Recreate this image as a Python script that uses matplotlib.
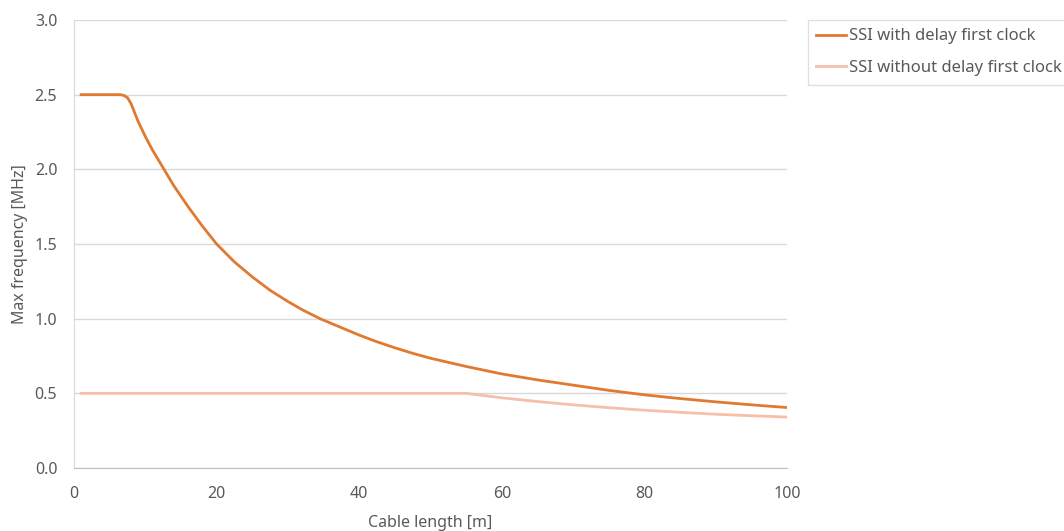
import matplotlib
matplotlib.use('Agg')
import matplotlib.pyplot as plt
from matplotlib.ticker import FormatStrFormatter

plt.rcParams['font.family'] = ['Noto Sans', 'DejaVu Sans']

# values
len_delay = [1, 6, 6.5, 7, 7.5, 8, 8.5, 9, 9.5, 10, 11, 12.5, 14, 16, 18, 20, 22.5,
             25, 27.5, 30, 32, 34.5, 37, 40, 42.5, 45, 47.5, 50, 55, 60, 65, 70,
             75, 80, 85, 90, 95, 100]
freq_delay = [2.5, 2.5, 2.5, 2.495, 2.48, 2.44, 2.38, 2.32, 2.27, 2.22, 2.13, 2.01,
              1.89, 1.75, 1.62, 1.50, 1.38, 1.28, 1.19, 1.115, 1.06, 1.00, 0.95,
              0.89, 0.845, 0.805, 0.768, 0.735, 0.68, 0.63, 0.59, 0.555, 0.52,
              0.49, 0.465, 0.443, 0.423, 0.405]
len_nodelay = [1, 55, 60, 65, 70, 75, 80, 85, 90, 95, 100]
freq_nodelay = [0.5, 0.5, 0.47, 0.445, 0.423, 0.404, 0.387, 0.373, 0.36, 0.35, 0.341]

labels = ['SSI with delay first clock', 'SSI without delay first clock']
colors = ['#E07A30', '#F7BFA8']
text_col = '#595959'

fig = plt.figure(figsize=(10.64, 5.31), dpi=100)
ax = fig.add_axes([74/1064, 1 - 468/531, (787 - 74)/1064, (468 - 20)/531])

ax.plot(len_delay, freq_delay, color=colors[0], lw=2, label=labels[0])
ax.plot(len_nodelay, freq_nodelay, color=colors[1], lw=2, label=labels[1])

ax.set_xlim(0, 100)
ax.set_ylim(0, 3.0)
ax.set_xticks(range(0, 101, 20))
ax.set_yticks([0, 0.5, 1.0, 1.5, 2.0, 2.5, 3.0])
ax.yaxis.set_major_formatter(FormatStrFormatter('%.1f'))
ax.grid(axis='y', color='#D9D9D9', lw=1)
ax.set_axisbelow(True)
ax.tick_params(length=0, labelsize=11.5, labelcolor=text_col)
ax.tick_params(axis='x', pad=13)
ax.tick_params(axis='y', pad=12)
for s in ['top', 'right']:
    ax.spines[s].set_visible(False)
ax.spines['left'].set_color('#D9D9D9')
ax.spines['bottom'].set_color('#BFBFBF')

ax.set_xlabel('Cable length [m]', fontsize=11.5, color=text_col, labelpad=9)
ax.set_ylabel('Max frequency [MHz]', fontsize=11.5, color=text_col, labelpad=5)

leg = fig.legend(loc='upper left', bbox_to_anchor=(808/1064, 1 - 20/531),
                 borderaxespad=0, fontsize=12, frameon=True, fancybox=False,
                 handlelength=1.8, handletextpad=0.15, labelspacing=0.95,
                 borderpad=0.5)
leg.get_frame().set_edgecolor('#D9D9D9')
leg.get_frame().set_linewidth(1)
for t in leg.get_texts():
    t.set_color(text_col)

fig.savefig('out.png', dpi=100)
